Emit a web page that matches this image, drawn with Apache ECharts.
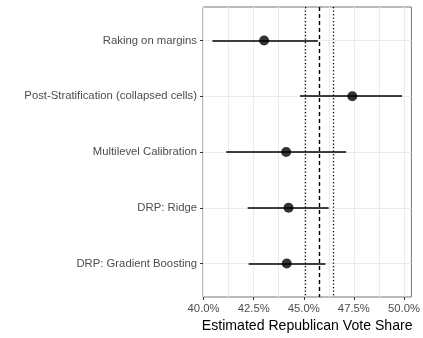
<!DOCTYPE html>
<html>
<head>
<meta charset="utf-8">
<script src="https://cdn.jsdelivr.net/npm/echarts@6/dist/echarts.min.js"></script>
<style>html,body{margin:0;padding:0;background:#fff}#c{width:423px;height:338px}</style>
</head>
<body>
<div id="c"></div>
<script>
const methods = ["Raking on margins", "Post-Stratification (collapsed cells)", "Multilevel Calibration", "DRP: Ridge", "DRP: Gradient Boosting"];
const estimates = [43.02, 47.42, 44.12, 44.24, 44.15];
const lower = [40.44, 44.81, 41.13, 42.20, 42.25];
const upper = [45.70, 49.90, 47.11, 46.24, 46.08];
const xTicks = [40, 42.5, 45, 47.5, 50];
const xMinorTicks = [41.25, 43.75, 46.25, 48.75];
const refDashed = 45.77;
const refDotted = [45.05, 46.48];

const chart = echarts.init(document.getElementById('c'), null, {renderer: 'canvas'});
const FONT = 'Liberation Sans, Arial, sans-serif';
const xMin = 39.97, xMax = 50.37;
const idx = methods.map((_, i) => i);

chart.setOption({
  animation: false,
  backgroundColor: '#fff',
  grid: {left: 203, right: 10, top: 7, bottom: 41, show: true, borderColor: '#777', borderWidth: 1, backgroundColor: 'transparent'},
  xAxis: [{
    type: 'value', min: xMin, max: xMax, position: 'bottom',
    name: 'Estimated Republican Vote Share', nameLocation: 'middle', nameGap: 16,
    nameTextStyle: {color: '#000', fontSize: 14.1, fontFamily: FONT},
    axisLine: {show: false, onZero: false},
    axisTick: {show: true, length: 3, lineStyle: {color: '#333'}, customValues: xTicks},
    axisLabel: {show: true, customValues: xTicks, margin: 6, color: '#4d4d4d', fontSize: 11.3, fontFamily: FONT,
      formatter: v => v.toFixed(1) + '%'},
    splitLine: {show: true, lineStyle: {color: '#ebebeb', width: 1}}
  }, {
    type: 'value', min: xMin, max: xMax, position: 'bottom',
    axisLine: {show: false, onZero: false},
    axisTick: {show: false, customValues: xMinorTicks},
    axisLabel: {show: false, customValues: xMinorTicks},
    splitLine: {show: true, lineStyle: {color: '#ebebeb', width: 1}}
  }],
  yAxis: {
    type: 'value', min: -0.6, max: 4.6, inverse: true, position: 'left',
    axisLine: {show: false, onZero: false},
    axisTick: {show: true, length: 3, lineStyle: {color: '#333'}, customValues: idx},
    axisLabel: {show: true, customValues: idx, margin: 6, color: '#4d4d4d', fontSize: 11.3, fontFamily: FONT,
      formatter: v => methods[Math.round(v)] || ''},
    splitLine: {show: true, lineStyle: {color: '#ebebeb', width: 1}}
  },
  series: [{
    type: 'scatter',
    xAxisIndex: 0,
    data: [],
    z: 3,
    markLine: {
      silent: true, symbol: ['none', 'none'], label: {show: false},
      lineStyle: {color: '#000', width: 1.6, type: 'solid'},
      data: idx.map(i => [{coord: [lower[i], i]}, {coord: [upper[i], i]}])
    }
  }, {
    type: 'scatter',
    xAxisIndex: 0,
    data: idx.map(i => [estimates[i], i]),
    symbol: 'circle', symbolSize: 10,
    itemStyle: {color: '#000'},
    z: 4,
    markLine: {
      silent: true, symbol: ['none', 'none'], label: {show: false},
      data: [
        {xAxis: refDashed, lineStyle: {color: '#000', width: 1.4, type: [4, 3]}},
        {xAxis: refDotted[0], lineStyle: {color: '#000', width: 1.3, type: [1.2, 2.3]}},
        {xAxis: refDotted[1], lineStyle: {color: '#000', width: 1.3, type: [1.2, 2.3]}}
      ]
    }
  }]
});
</script>
</body>
</html>
